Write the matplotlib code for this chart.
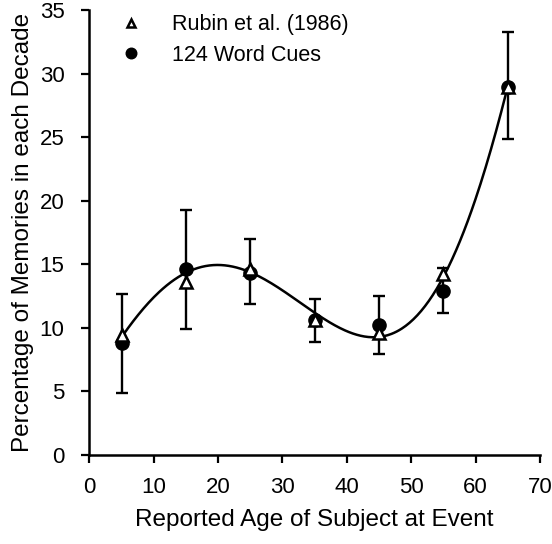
import numpy as np
from matplotlib import pyplot as plt

plt.rcParams['font.family'] = ['Liberation Sans', 'DejaVu Sans']

# decade midpoints
edad = [5, 15, 25, 35, 45, 55, 65]
# Rubin et al. (1986), open triangles
rubin = [9.4, 13.6, 14.6, 10.6, 9.6, 14.2, 29.0]
# 124 word cues, filled circles, with error bars
cues = [8.8, 14.6, 14.3, 10.6, 10.2, 12.9, 29.0]
err_sup = [12.7, 19.3, 17.0, 12.3, 12.5, 14.7, 33.3]
err_inf = [4.9, 9.9, 11.9, 8.9, 7.9, 11.2, 24.9]

# smooth curve
curva_x = [5, 10, 15, 20, 25, 30, 35, 40, 45, 50, 55, 60, 65]
curva_y = [9.3, 12.3, 14.4, 15.0, 14.4, 12.9, 11.0, 9.8, 9.5, 10.6, 13.5, 20.5, 28.9]

fig = plt.figure(figsize=(5.52, 5.44), dpi=100)
ax = fig.add_axes([0.162, 0.164, 0.816, 0.817])

# curva suavizada
coef = np.polyfit(curva_x, curva_y, 6)
xs = np.linspace(5, 65, 300)
ax.plot(xs, np.polyval(coef, xs), 'k-', lw=1.8, zorder=2)

yerr = [np.array(cues) - np.array(err_inf), np.array(err_sup) - np.array(cues)]
ax.errorbar(edad, cues, yerr=yerr, fmt='none', ecolor='k', elinewidth=1.7,
            capsize=4.5, capthick=1.7, zorder=3)
ax.plot(edad, cues, 'o', color='k', ms=9.5, zorder=4, label='124 Word Cues')
ax.plot(edad, rubin, '^', mfc='white', mec='k', mew=1.8, ms=8, zorder=5,
        label='Rubin et al. (1986)')

ax.set_xlim(0, 70)
ax.set_ylim(0, 35)
ax.set_xticks(range(0, 71, 10))
ax.set_yticks(range(0, 36, 5))
ax.spines['top'].set_visible(False)
ax.spines['right'].set_visible(False)
ax.spines['left'].set_linewidth(1.8)
ax.spines['bottom'].set_linewidth(1.8)
ax.tick_params(direction='out', length=6, width=1.6, labelsize=16)
ax.tick_params(axis='y', pad=12)
ax.tick_params(axis='x', pad=10)

ax.set_xlabel('Reported Age of Subject at Event', fontsize=17.5, labelpad=8)
ax.set_ylabel('Percentage of Memories in each Decade', fontsize=17.5, labelpad=4)

h, l = ax.get_legend_handles_labels()
leg = ax.legend([h[1], h[0]], [l[1], l[0]], loc='upper left', frameon=False,
                fontsize=15.5, bbox_to_anchor=(0.02, 1.035), handlelength=1.2,
                handletextpad=1.3, labelspacing=0.45, markerscale=0.8)

plt.savefig('out.png', dpi=100)
